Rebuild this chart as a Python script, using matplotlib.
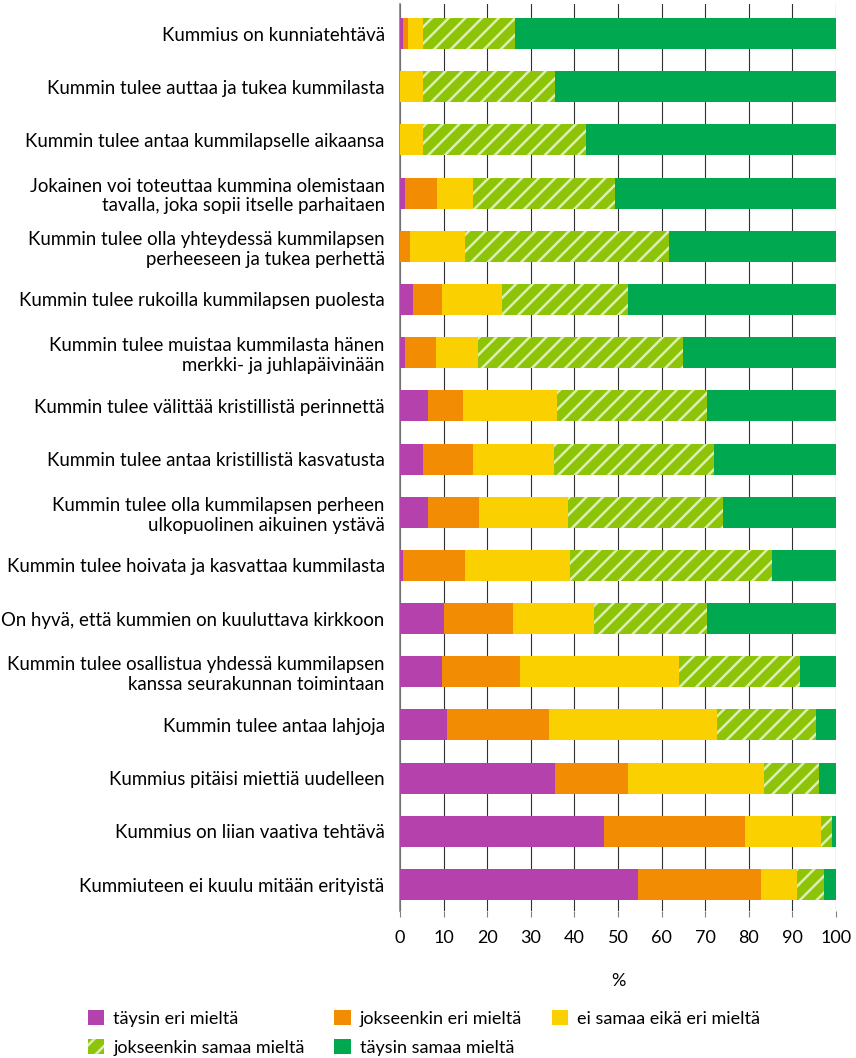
import numpy as np
import matplotlib
matplotlib.use('Agg')
import matplotlib.pyplot as plt
from matplotlib.patches import Patch

plt.rcParams['font.family'] = ['Lato', 'DejaVu Sans']
plt.rcParams['hatch.color'] = '#DDEFB0'
plt.rcParams['hatch.linewidth'] = 1.8

statements = [
    'Kummius on kunniatehtävä',
    'Kummin tulee auttaa ja tukea kummilasta',
    'Kummin tulee antaa kummilapselle aikaansa',
    'Jokainen voi toteuttaa kummina olemistaan\ntavalla, joka sopii itselle parhaitaen',
    'Kummin tulee olla yhteydessä kummilapsen\nperheeseen ja tukea perhettä',
    'Kummin tulee rukoilla kummilapsen puolesta',
    'Kummin tulee muistaa kummilasta hänen\nmerkki- ja juhlapäivinään',
    'Kummin tulee välittää kristillistä perinnettä',
    'Kummin tulee antaa kristillistä kasvatusta',
    'Kummin tulee olla kummilapsen perheen\nulkopuolinen aikuinen ystävä',
    'Kummin tulee hoivata ja kasvattaa kummilasta',
    'On hyvä, että kummien on kuuluttava kirkkoon',
    'Kummin tulee osallistua yhdessä kummilapsen\nkanssa seurakunnan toimintaan',
    'Kummin tulee antaa lahjoja',
    'Kummius pitäisi miettiä uudelleen',
    'Kummius on liian vaativa tehtävä',
    'Kummiuteen ei kuulu mitään erityistä',
]

taysin_eri = [0.7, 0, 0, 1.2, 0, 3.0, 1.1, 6.4, 5.3, 6.4, 0.7, 10.1, 9.6, 10.8, 35.5, 46.9, 54.7]
jokseenkin_eri = [1.1, 0, 0, 7.3, 2.3, 6.6, 7.2, 8.0, 11.4, 11.7, 14.2, 15.8, 17.9, 23.3, 16.7, 32.3, 28.2]
ei_samaa_eika_eri = [3.5, 5.3, 5.3, 8.2, 12.6, 13.8, 9.6, 21.6, 18.6, 20.4, 24.0, 18.5, 36.6, 38.5, 31.2, 17.4, 8.2]
jokseenkin_samaa = [21.0, 30.2, 37.3, 32.5, 46.9, 28.8, 46.9, 34.3, 36.8, 35.5, 46.5, 25.9, 27.7, 22.9, 12.8, 2.5, 6.2]
taysin_samaa = [73.7, 64.5, 57.4, 50.8, 38.2, 47.8, 35.2, 29.7, 27.9, 26.0, 14.6, 29.7, 8.2, 4.5, 3.8, 0.9, 2.7]

series = [
    ('täysin eri mieltä', taysin_eri, '#B541AD', None),
    ('jokseenkin eri mieltä', jokseenkin_eri, '#F28C03', None),
    ('ei samaa eikä eri mieltä', ei_samaa_eika_eri, '#FAD000', None),
    ('jokseenkin samaa mieltä', jokseenkin_samaa, '#8DC408', '//'),
    ('täysin samaa mieltä', taysin_samaa, '#00A84F', None),
]

fig = plt.figure(figsize=(8.56, 10.58), dpi=100)
ax = fig.add_axes([400 / 856, 1 - 911 / 1058, 436 / 856, 907 / 1058])

y = np.arange(len(statements))
left = np.zeros(len(statements))
handles = []
for name, vals, col, hatch in series:
    vals = np.array(vals)
    ax.barh(y, vals, left=left, height=0.583, color=col, hatch=hatch,
            edgecolor=col if hatch is None else '#DDEFB0', linewidth=0, zorder=3)
    handles.append(Patch(facecolor=col, hatch=hatch, edgecolor='#DDEFB0' if hatch else col,
                         linewidth=0, label=name))
    left += vals

ax.set_xlim(0, 100)
ax.set_ylim(16 + 0.498, -0.555)
ax.set_xticks(np.arange(0, 101, 10))
ax.set_yticks(y)
ax.set_yticklabels(statements, fontsize=13.4, linespacing=1.2)
ax.tick_params(axis='y', length=0, pad=11)
ax.tick_params(axis='x', length=4, color='#808080', labelsize=13, pad=10)
ax.xaxis.grid(True, color='#303030', linewidth=0.8, zorder=0)
ax.set_axisbelow(True)
for s in ['top', 'right', 'bottom']:
    ax.spines[s].set_visible(False)
ax.spines['left'].set_color('#808080')
ax.spines['left'].set_linewidth(1.2)
ax.set_xlabel('%', fontsize=13, labelpad=19)

order = [0, 3, 1, 4, 2]
fig.legend([handles[i] for i in order], [handles[i].get_label() for i in order],
           loc='upper left', bbox_to_anchor=(88 / 856, 1 - 1010 / 1058), ncol=3,
           frameon=False, fontsize=13, handlelength=0.9, handleheight=0.9,
           handletextpad=0.5, columnspacing=1.65, borderpad=0, borderaxespad=0,
           labelspacing=0.7)

fig.savefig('out.png', dpi=100)
